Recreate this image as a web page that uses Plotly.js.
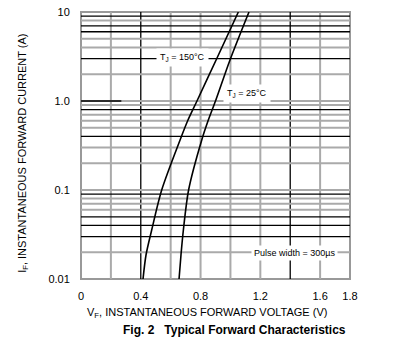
<!DOCTYPE html>
<html>
<head>
<meta charset="utf-8">
<script src="https://cdn.plot.ly/plotly-3.0.1.min.js"></script>
<style>html,body{margin:0;padding:0;background:#fff;}#chart{width:408px;height:355px;}</style>
</head>
<body>
<div id="chart"></div>
<script>
// Forward voltage (V) vs forward current (A)
const current = [0.01, 0.0186, 0.0355, 0.1, 0.365, 0.611, 1.0, 2.89, 10];
const voltage150 = [0.415, 0.435, 0.473, 0.54, 0.663, 0.716, 0.776, 0.904, 1.053];
const voltage25 = [0.656, 0.669, 0.685, 0.72, 0.808, 0.852, 0.9, 0.997, 1.124];

const xTickVals = [0, 0.4, 0.8, 1.2, 1.6, 1.8];
const xTickText = ['0', '0.4', '0.8', '1.2', '1.6', '1.8'];
const yTickVals = [0.01, 0.1, 1, 10];
const yTickText = ['0.01', '0.1', '1.0', '10'];

const xGridValues = [0.2, 0.4, 0.6, 0.8, 1.0, 1.2, 1.4, 1.6];
const xGridDark = [0.4, 1.4];
const yGridValues = [0.02,0.03,0.04,0.05,0.06,0.07,0.08,0.09,0.1,
                     0.2,0.3,0.4,0.5,0.6,0.7,0.8,0.9,1,
                     2,3,4,5,6,7,8,9];
const yGridDark = [0.03,0.04,0.05,0.09,0.4,0.8,3,6,7,9];

const GRAY = '#aaaaaa';
const shapes = [];
xGridValues.forEach(v => {
  const dark = xGridDark.includes(v);
  shapes.push({type:'line', layer:'below', xref:'x', yref:'y', x0:v, x1:v, y0:0.01, y1:10,
    line:{color: dark ? '#000' : GRAY, width: dark ? 1.3 : 2}});
});
yGridValues.forEach(v => {
  const dark = yGridDark.includes(v);
  shapes.push({type:'line', layer:'below', xref:'x', yref:'y', x0:0, x1:1.8, y0:v, y1:v,
    line:{color: dark ? '#000' : GRAY, width: dark ? 1.3 : 2}});
});
// black stub on the 1.0 line at left
shapes.push({type:'line', layer:'below', xref:'x', yref:'y', x0:0, x1:0.27, y0:1, y1:1, line:{color:'#000', width:1.3}});
// frame
shapes.push({type:'rect', layer:'below', xref:'paper', yref:'paper', x0:0, x1:1, y0:0, y1:1, line:{color:'#999', width:2}});

const traces = [
  {x: voltage150, y: current, type:'scatter', mode:'lines', line:{color:'#000', width:1.6, shape:'spline', smoothing:0.8}, hoverinfo:'skip'},
  {x: voltage25, y: current, type:'scatter', mode:'lines', line:{color:'#000', width:1.6, shape:'spline', smoothing:0.8}, hoverinfo:'skip'}
];

const FONT = 'Liberation Sans, Arial, sans-serif';
const layout = {
  width: 408, height: 355,
  margin: {l:81, r:58, t:12, b:76},
  paper_bgcolor:'#fff', plot_bgcolor:'#fff',
  showlegend:false,
  font:{family:FONT, color:'#000', size:11},
  xaxis:{range:[0,1.8], tickvals:xTickVals, ticktext:xTickText, showgrid:false, zeroline:false,
         showline:false, ticks:'outside', ticklen:7, tickcolor:'rgba(0,0,0,0)', tickfont:{size:11, family:FONT}},
  yaxis:{type:'log', range:[-2,1], tickvals:yTickVals, ticktext:yTickText, showgrid:false, zeroline:false,
         showline:false, ticks:'outside', ticklen:8, tickcolor:'rgba(0,0,0,0)', tickfont:{size:11, family:FONT}},
  shapes: shapes,
  annotations: [
    {xref:'x', yref:'y', x:0.676, y:Math.log10(3.05), text:'T<sub>J</sub> = 150°C', showarrow:false,
     bgcolor:'#fff', borderpad:3, font:{size:9, family:FONT}},
    {xref:'x', yref:'y', x:1.111, y:Math.log10(1.23), text:'T<sub>J</sub> = 25°C', showarrow:false,
     bgcolor:'#fff', borderpad:3, font:{size:9, family:FONT}},
    {xref:'x', yref:'y', x:1.426, y:Math.log10(0.0195), text:'Pulse width = 300µs', showarrow:false,
     bgcolor:'#fff', borderpad:2, xpad:8, font:{size:9, family:FONT}},
    {xref:'paper', yref:'paper', x:0.47, y:-0.128, xanchor:'center', yanchor:'middle', showarrow:false,
     text:'V<sub>F</sub>, INSTANTANEOUS FORWARD VOLTAGE (V)', font:{size:11, family:FONT}},
    {xref:'paper', yref:'paper', x:0.57, y:-0.191, xanchor:'center', yanchor:'middle', showarrow:false,
     text:'<b>Fig. 2   Typical Forward Characteristics</b>', font:{size:12, family:FONT}},
    {xref:'paper', yref:'paper', x:-0.218, y:0.47, xanchor:'center', yanchor:'middle', showarrow:false, textangle:-90,
     text:'I<sub>F</sub>, INSTANTANEOUS FORWARD CURRENT (A)', font:{size:11, family:FONT}}
  ]
};

Plotly.newPlot('chart', traces, layout, {displayModeBar:false, staticPlot:true});
</script>
</body>
</html>
